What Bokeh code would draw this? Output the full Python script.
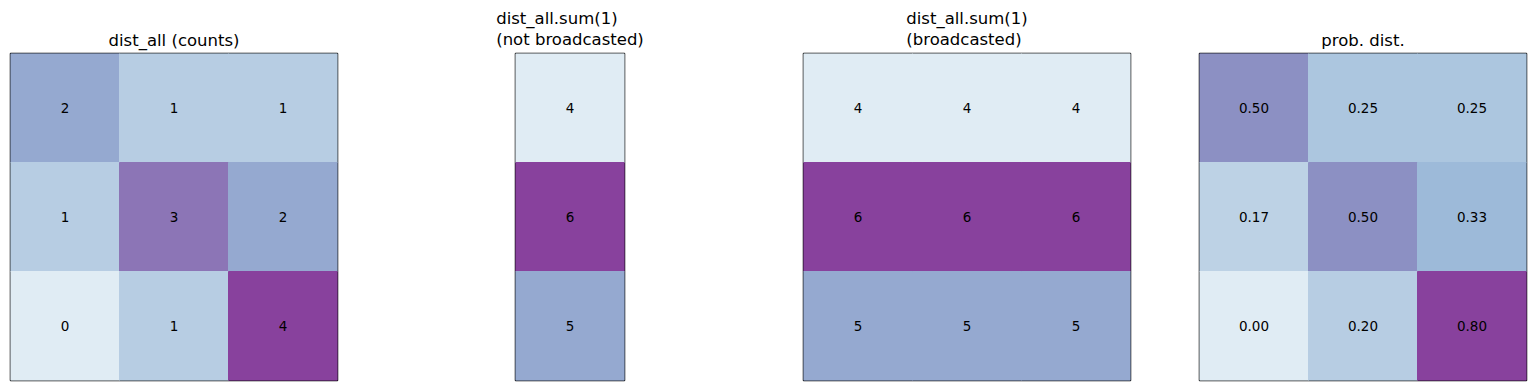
from bokeh.plotting import figure
from bokeh.layouts import row
from bokeh.models import Range1d, LinearColorMapper, ColumnDataSource
from bokeh.palettes import BuPu9
from bokeh.embed import file_html
from bokeh.resources import INLINE

# ---- data ----
counts = [[2, 1, 1],
          [1, 3, 2],
          [0, 1, 4]]
row_sums = [4, 6, 5]
probs = [[0.50, 0.25, 0.25],
         [0.17, 0.50, 0.33],
         [0.00, 0.20, 0.80]]
titles = ["dist_all (counts)",
          "dist_all.sum(1)\n(not broadcasted)",
          "dist_all.sum(1)\n(broadcasted)",
          "prob. dist."]

# ---- palette: BuPu truncated to [0.125, 0.75] ----
stops = list(reversed(BuPu9))[1:7]


def hex2rgb(h):
    h = h.lstrip("#")
    return [int(h[i:i + 2], 16) for i in (0, 2, 4)]


srgb = [hex2rgb(s) for s in stops]
palette = []
N = 256
for k in range(N):
    t = k / (N - 1) * (len(srgb) - 1)
    i = min(int(t), len(srgb) - 2)
    f = t - i
    c = [round(srgb[i][m] + (srgb[i + 1][m] - srgb[i][m]) * f) for m in range(3)]
    palette.append("#%02x%02x%02x" % tuple(c))

FONT = "DejaVu Sans"


def panel(matrix, fmt, title, frame_w, left_border, right_border=0):
    nrows = len(matrix)
    ncols = len(matrix[0])
    xs, ys, vals, labels = [], [], [], []
    for i, r in enumerate(matrix):
        for j, v in enumerate(r):
            xs.append(j + 0.5)
            ys.append(nrows - i - 0.5)
            vals.append(v)
            labels.append(fmt.format(v))
    mapper = LinearColorMapper(palette=palette, low=min(vals), high=max(vals))
    src = ColumnDataSource(dict(x=xs, y=ys, v=vals, label=labels))
    p = figure(frame_width=frame_w, frame_height=327,
               x_range=Range1d(0, ncols), y_range=Range1d(0, nrows),
               output_backend="svg", toolbar_location=None,
               x_axis_type=None, y_axis_type=None,
               min_border_left=left_border, min_border_right=right_border,
               min_border_top=53, min_border_bottom=3,
               title=title)
    p.grid.visible = False
    p.outline_line_color = "black"
    p.outline_line_width = 1.5
    p.outline_line_alpha = 1
    p.background_fill_color = "white"
    p.border_fill_color = "white"
    p.title.align = "center"
    p.title.text_font = FONT
    p.title.text_font_size = "16.5px"
    p.title.text_font_style = "normal"
    p.title.text_color = "black"
    p.title.text_line_height = 1.15
    p.title.standoff = 8
    p.rect(x="x", y="y", width=1, height=1, source=src,
           fill_color={"field": "v", "transform": mapper},
           line_color={"field": "v", "transform": mapper},
           line_width=1)
    p.text(x="x", y="y", text="label", source=src,
           text_align="center", text_baseline="middle",
           text_font={"value": FONT}, text_font_size="13.5px",
           text_color="black")
    return p


broadcast = [[s] * 3 for s in row_sums]

p1 = panel(counts, "{}", titles[0], 327, 10, 2)
p2 = panel([[s] for s in row_sums], "{}", titles[1], 109, 176, 40)
p3 = panel(broadcast, "{}", titles[2], 327, 139, 2)
p4 = panel(probs, "{:.2f}", titles[3], 327, 67, 2)

layout = row(p1, p2, p3, p4)
open("out.html", "w").write(file_html(layout, INLINE))
